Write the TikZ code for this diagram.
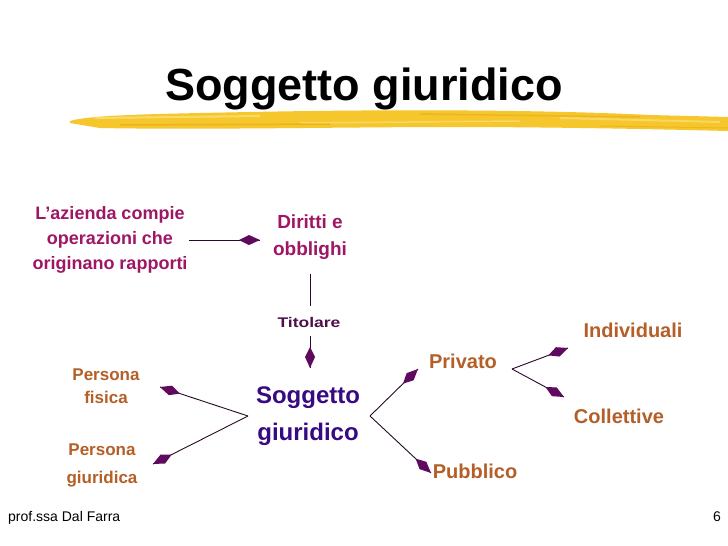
\documentclass[tikz,border=0pt]{standalone}
\usepackage{fontspec}
\setmainfont{Liberation Sans}
\usetikzlibrary{calc}
\definecolor{mag}{RGB}{158,22,100}
\definecolor{tit}{RGB}{80,15,75}
\definecolor{sogg}{RGB}{55,10,130}
\definecolor{ora}{RGB}{180,95,40}
\definecolor{linec}{RGB}{40,10,40}
\definecolor{headc}{RGB}{95,10,95}
\definecolor{brush}{RGB}{246,198,45}
\definecolor{brushl}{RGB}{250,224,120}
\definecolor{brushd}{RGB}{232,172,25}
\newcommand\myarrow[2]{%
  \draw[plain] (#1) -- (#2);
  \fill[headc] (#2) -- ($(#2)!11pt!(#1)!5pt!90:(#1)$) -- ($(#2)!21pt!(#1)$)
    -- ($(#2)!11pt!(#1)!5pt!-90:(#1)$) -- cycle;}
\begin{document}
\begin{tikzpicture}[x=1pt,y=1pt,
  lbl/.style={inner sep=0pt, align=center, anchor=base},
  plain/.style={draw=linec, line width=0.9pt}
]
\useasboundingbox[fill=white] (0,0) rectangle (728,-546);

% brush stroke
\fill[brush] (70,-121) .. controls (90,-115) and (150,-114) .. (250,-112)
  .. controls (400,-109) and (550,-110) .. (650,-115) -- (728,-117) -- (728,-131)
  .. controls (650,-129) and (550,-127) .. (450,-127)
  .. controls (350,-127) and (200,-130) .. (100,-128) -- (70,-123) -- cycle;
\draw[brushl, line width=2pt, opacity=0.8] (95,-118) -- (260,-116);
\draw[brushl, line width=1.5pt, opacity=0.7] (300,-123) -- (520,-121);
\draw[brushl, line width=2pt, opacity=0.7] (560,-118) -- (720,-122);
\draw[brushd, line width=1.5pt, opacity=0.7] (120,-125) -- (330,-124);
\draw[brushd, line width=1.5pt, opacity=0.6] (420,-114) -- (640,-117);
\draw[brushd, line width=1pt, opacity=0.6] (600,-126) -- (728,-128);

% title
\node[lbl, font=\bfseries\fontsize{45}{50}\selectfont] (title) at (364,-100) {Soggetto giuridico};

% nodes (base = baseline of last line)
\node[lbl, text=mag, font=\bfseries\fontsize{18}{25}\selectfont] (az) at (110,-269) {L'azienda compie\\operazioni che\\originano rapporti};
\node[lbl, text=mag, font=\bfseries\fontsize{19}{27}\selectfont] (dir) at (310,-255) {Diritti e\\obblighi};
\node[lbl, text=tit, font=\bfseries\fontsize{14}{16}\selectfont] (tito) at (309,-327) {\scalebox{1.25}[1]{Titolare}};
\node[lbl, text=sogg, font=\bfseries\fontsize{24}{37}\selectfont] (sog) at (308,-440) {Soggetto\\giuridico};
\node[lbl, text=ora, font=\bfseries\fontsize{17}{23}\selectfont] (pf) at (106,-403) {Persona\\fisica};
\node[lbl, text=ora, font=\bfseries\fontsize{17}{28}\selectfont] (pg) at (102,-483) {Persona\\giuridica};
\node[lbl, text=ora, font=\bfseries\fontsize{20}{24}\selectfont] (priv) at (463,-368) {Privato};
\node[lbl, text=ora, font=\bfseries\fontsize{20}{24}\selectfont] (pub) at (475,-478) {Pubblico};
\node[lbl, text=ora, font=\bfseries\fontsize{20}{24}\selectfont] (ind) at (633,-337) {Individuali};
\node[lbl, text=ora, font=\bfseries\fontsize{20}{24}\selectfont] (col) at (619,-423) {Collettive};

% footer
\node[inner sep=0pt, anchor=base west, font=\fontsize{14}{16}\selectfont] (auth) at (8,-521) {prof.ssa Dal Farra};
\node[inner sep=0pt, anchor=base east, font=\fontsize{14}{16}\selectfont] (pnum) at (721,-521) {6};

% connector points
\coordinate (azE) at (189,-240);
\coordinate (dirW) at (260,-240);
\coordinate (dirS) at (310,-274);
\coordinate (titN) at (310,-306);
\coordinate (titS) at (310,-336);
\coordinate (sogN) at (310,-368);
\coordinate (sogW) at (248,-416);
\coordinate (pfE) at (160,-387);
\coordinate (pgE) at (153,-464);
\coordinate (sogE) at (370,-416);
\coordinate (privW) at (418,-369);
\coordinate (pubW) at (431,-473);
\coordinate (privE) at (512,-369);
\coordinate (indW) at (568,-348);
\coordinate (colW) at (564,-397);

\myarrow{azE}{dirW}
\draw[plain] (dirS) -- (titN);
\myarrow{titS}{sogN}
\myarrow{sogW}{pfE}
\myarrow{sogW}{pgE}
\myarrow{sogE}{privW}
\myarrow{sogE}{pubW}
\myarrow{privE}{indW}
\myarrow{privE}{colW}
\end{tikzpicture}
\end{document}
